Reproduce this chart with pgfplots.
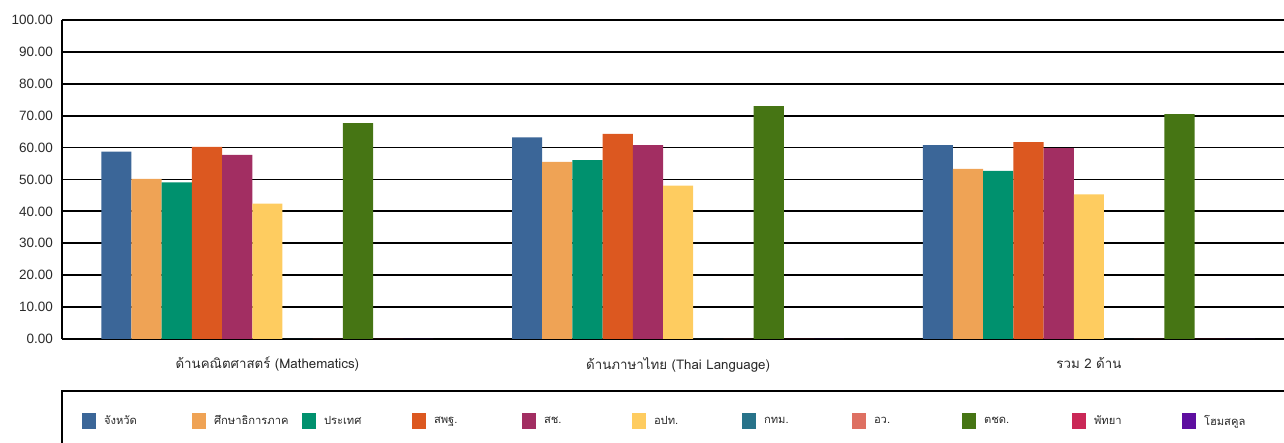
\documentclass[border=0pt]{standalone}
\usepackage{pgfplots}
\pgfplotsset{compat=1.18}
\usepackage{fontspec}
\setmainfont{Liberation Sans}
\newfontfamily\thaifont[Script=Thai]{Loma}
\definecolor{c1}{HTML}{3B6698}
\definecolor{c2}{HTML}{EFA355}
\definecolor{c3}{HTML}{00916E}
\definecolor{c4}{HTML}{DC5820}
\definecolor{c5}{HTML}{A22E62}
\definecolor{c6}{HTML}{FECC60}
\definecolor{c7}{HTML}{28738A}
\definecolor{c8}{HTML}{DE7062}
\definecolor{c9}{HTML}{467514}
\definecolor{c10}{HTML}{CA2857}
\definecolor{c11}{HTML}{5E0EA0}
\definecolor{txt}{HTML}{2A2A2A}
\pgfplotsset{sqlegend/.style={legend image code/.code={\fill[##1] (0pt,-8pt) rectangle (14pt,8pt);}}}
\newcommand{\legtxt}[1]{\makebox[88pt][l]{\thaifont #1}}
\begin{document}
\begin{tikzpicture}
\useasboundingbox (0,0) rectangle (1284pt,443pt);
\begin{axis}[
  at={(62pt,104pt)}, anchor=south west, scale only axis,
  width=1222pt, height=319pt,
  xmin=-0.5, xmax=2.475, ymin=0, ymax=100,
  ybar=0pt, bar width=30.2pt,
  xtick={0,1,2},
  xticklabels={ด้านคณิตศาสตร์ (Mathematics),ด้านภาษาไทย (Thai Language),รวม 2 ด้าน},
  ytick={0,10,...,100},
  major tick length=0pt,
  ymajorgrids, grid style={black, line width=1.8pt},
  axis lines=left, axis line style={-, black, line width=1.8pt},
  /pgf/number format/assume math mode=true,
  yticklabel style={/pgf/number format/fixed, /pgf/number format/fixed zerofill, /pgf/number format/precision=2,
     font=\fontsize{13.5}{16}\selectfont, text=txt, inner sep=0pt, anchor=east, xshift=-9pt},
  xticklabel style={font=\fontsize{13.3}{16}\selectfont\thaifont, text=txt, inner sep=0pt, anchor=north, yshift=-18pt},
  legend columns=11,
  legend cell align=left,
  legend style={at={(axis description cs:0,-0.16301)}, anchor=north west,
     draw=black, line width=2pt, inner xsep=20pt, inner ysep=22pt, outer sep=0pt,
     font=\fontsize{11.2}{14}\selectfont, text=txt,
     nodes={inner sep=0pt},
     column sep=0pt,
     /tikz/every odd column/.append style={column sep=8pt}},
]
\addplot[fill=c1, draw=none, sqlegend] coordinates {(0,58.7) (1,63.2) (2,60.8)};
\addlegendentry{\legtxt{จังหวัด}}
\addplot[fill=c2, draw=none, sqlegend] coordinates {(0,50.2) (1,55.5) (2,53.3)};
\addlegendentry{\legtxt{ศึกษาธิการภาค}}
\addplot[fill=c3, draw=none, sqlegend] coordinates {(0,49.1) (1,56.1) (2,52.7)};
\addlegendentry{\legtxt{ประเทศ}}
\addplot[fill=c4, draw=none, sqlegend] coordinates {(0,60.2) (1,64.3) (2,61.7)};
\addlegendentry{\legtxt{สพฐ.}}
\addplot[fill=c5, draw=none, sqlegend] coordinates {(0,57.7) (1,60.8) (2,59.8)};
\addlegendentry{\legtxt{สช.}}
\addplot[fill=c6, draw=none, sqlegend] coordinates {(0,42.4) (1,48.1) (2,45.3)};
\addlegendentry{\legtxt{อปท.}}
\addplot[fill=c7, draw=none, sqlegend] coordinates {(0,0) (1,0) (2,0)};
\addlegendentry{\legtxt{กทม.}}
\addplot[fill=c8, draw=none, sqlegend] coordinates {(0,0) (1,0) (2,0)};
\addlegendentry{\legtxt{อว.}}
\addplot[fill=c9, draw=none, sqlegend] coordinates {(0,67.7) (1,73.0) (2,70.5)};
\addlegendentry{\legtxt{ตชด.}}
\addplot[fill=c10, draw=none, sqlegend] coordinates {(0,0) (1,0) (2,0)};
\addlegendentry{\legtxt{พัทยา}}
\addplot[fill=c11, draw=none, sqlegend] coordinates {(0,0) (1,0) (2,0)};
\addlegendentry{\legtxt{โฮมสคูล}}
\end{axis}
\end{tikzpicture}
\end{document}
